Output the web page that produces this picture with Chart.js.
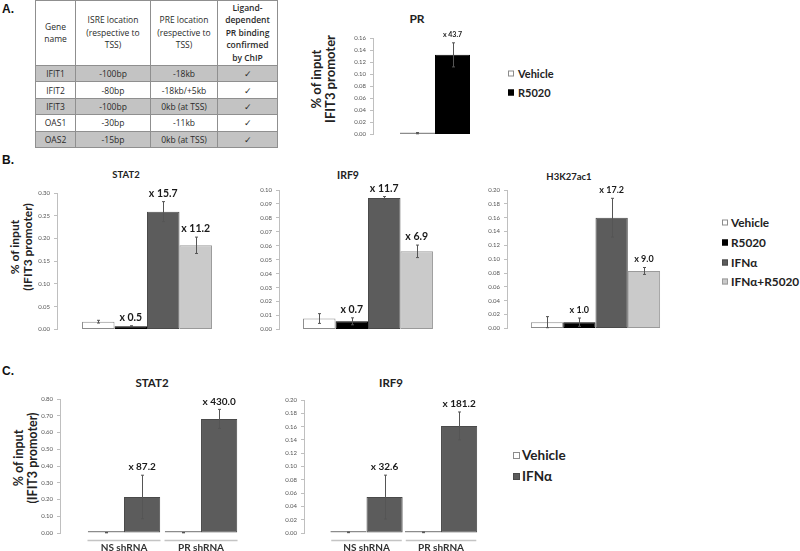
<!DOCTYPE html>
<html>
<head>
<meta charset="utf-8">
<script src="https://cdn.jsdelivr.net/npm/chart.js@4"></script>
<style>
  html, body { margin: 0; padding: 0; background: #fff; }
  #fig { position: relative; width: 800px; height: 551px; overflow: hidden; font-family: Lato, sans-serif; color: #222; }
  #fig canvas { position: absolute; }
  .txt { position: absolute; white-space: nowrap; transform: translate(-50%, -50%); font-weight: bold; line-height: 1.1; text-align: center; }
  .txt.rot { transform: translate(-50%, -50%) rotate(-90deg); }
  .letter { position: absolute; transform: translateY(-50%); font-family: 'Liberation Sans', Arial, sans-serif; font-weight: bold; font-size: 12px; color: #111; }
  .leg { position: absolute; transform: translateY(-50%); display: flex; align-items: center; font-weight: bold; white-space: nowrap; color: #222; }
  .leg .sw { display: inline-block; box-sizing: border-box; border: 1px solid #777; }
  table.genes { position: absolute; left: 35px; top: 0; border-collapse: collapse; table-layout: fixed;
    font-family: 'Open Sans', sans-serif; font-size: 8.5px; color: #2a2a2a; }
  table.genes th, table.genes td { border: 1px solid #8f8f8f; text-align: center; padding: 0; }
  table.genes th { font-weight: normal; line-height: 12.5px; height: 64px; }
  table.genes th:last-child { font-weight: 600; }
  table.genes td { height: 15.4px; }
  table.genes tr.shade td { background: #c3c3c3; }
</style>
</head>
<body>
<div id="fig"></div>
<script>
// ---- Panel A: table ----
const tableHead = ['Gene<br>name', 'ISRE location<br>(respective to<br>TSS)', 'PRE location<br>(respective to<br>TSS)', 'Ligand-<br>dependent<br>PR binding<br>confirmed<br>by ChIP'];
const genes = ['IFIT1', 'IFIT2', 'IFIT3', 'OAS1', 'OAS2'];
const isreLoc = ['-100bp', '-80bp', '-100bp', '-30bp', '-15bp'];
const preLoc = ['-18kb', '-18kb/+5kb', '0kb (at TSS)', '-11kb', '0kb (at TSS)'];
const chipOk = ['✓', '✓', '✓', '✓', '✓'];

// ---- Panel A: PR ChIP ----
const prSeries = ['Vehicle', 'R5020'];
const prValues = [0.002, 0.132];
const prErrors = [0.001, 0.020];
const prFold = ['', 'x 43.7'];

// ---- Panel B ----
const bSeries = ['Vehicle', 'R5020', 'IFNα', 'IFNα+R5020'];
const stat2Values = [0.017, 0.007, 0.259, 0.185];
const stat2Errors = [0.003, 0.001, 0.022, 0.018];
const stat2Fold = ['', 'x 0.5', 'x 15.7', 'x 11.2'];
const irf9Values = [0.0078, 0.0058, 0.0943, 0.056];
const irf9Errors = [0.0035, 0.0025, 0.001, 0.0045];
const irf9Fold = ['', 'x 0.7', 'x 11.7', 'x 6.9'];
const h3Values = [0.009, 0.009, 0.160, 0.083];
const h3Errors = [0.008, 0.006, 0.028, 0.005];
const h3Fold = ['', 'x 1.0', 'x 17.2', 'x 9.0'];

// ---- Panel C ----
const shGroups = ['NS shRNA', 'PR shRNA'];
const cSeries = ['Vehicle', 'IFNα'];
const cStat2Vehicle = [0.002, 0.002];
const cStat2VehicleErr = [0.001, 0.001];
const cStat2Ifn = [0.215, 0.681];
const cStat2IfnErr = [0.130, 0.057];
const cStat2Fold = ['x 87.2', 'x 430.0'];
const cIrf9Vehicle = [0.001, 0.001];
const cIrf9VehicleErr = [0.0005, 0.0005];
const cIrf9Ifn = [0.054, 0.161];
const cIrf9IfnErr = [0.033, 0.021];
const cIrf9Fold = ['x 32.6', 'x 181.2'];

// colores por serie
const seriesFill = { 'Vehicle': '#ffffff', 'R5020': '#000000', 'IFNα': '#5c5c5c', 'IFNα+R5020': '#cacaca' };
const seriesEdge = { 'Vehicle': '#8c8c8c', 'R5020': '#000000', 'IFNα': '#4a4a4a', 'IFNα+R5020': '#9a9a9a' };

const fig = document.getElementById('fig');
const Y_W = 24, PAD_T = 12, PAD_R = 2, PAD_B = 6;

// error bars + "x n" labels on top
const errorBars = {
  id: 'errorBars',
  afterDatasetsDraw(chart, args, opts) {
    const { ctx } = chart;
    const y = chart.scales.y;
    ctx.save();
    chart.data.datasets.forEach((ds, i) => {
      chart.getDatasetMeta(i).data.forEach((bar, j) => {
        const raw = ds.data[j];
        const v = typeof raw === 'object' ? raw.y : raw;
        const e = ds.errors ? ds.errors[j] : 0;
        const top = y.getPixelForValue(v + e);
        const bot = y.getPixelForValue(Math.max(v - e, 0));
        const x = Math.round(bar.x) + 0.5;
        ctx.strokeStyle = '#555';
        ctx.lineWidth = 1;
        ctx.beginPath();
        ctx.moveTo(x, top); ctx.lineTo(x, bot);
        ctx.moveTo(x - 1.5, top); ctx.lineTo(x + 1.5, top);
        ctx.moveTo(x - 1.5, bot); ctx.lineTo(x + 1.5, bot);
        ctx.stroke();
        const lab = ds.fold ? ds.fold[j] : '';
        if (lab) {
          ctx.fillStyle = '#1a1a1a';
          ctx.font = `bold ${opts.size}px Lato, sans-serif`;
          ctx.textAlign = 'center';
          ctx.textBaseline = 'middle';
          ctx.fillText(lab, bar.x, top - 8);
        }
      });
    });
    ctx.restore();
  },
};

// line under each shRNA group (panel C)
const groupLines = {
  id: 'groupLines',
  afterDraw(chart) {
    const x = chart.scales.x, ctx = chart.ctx;
    const half = (x.getPixelForValue(1) - x.getPixelForValue(0)) / 2;
    const yy = chart.chartArea.bottom + 7.5;
    ctx.save();
    ctx.strokeStyle = '#c4c4c4';
    ctx.lineWidth = 1.5;
    shGroups.forEach((_, i) => {
      const cx = x.getPixelForValue(i);
      ctx.beginPath();
      ctx.moveTo(cx - half + 2, yy);
      ctx.lineTo(cx + half - 2, yy);
      ctx.stroke();
    });
    ctx.restore();
  },
};

function makeCanvas(box) {
  const c = document.createElement('canvas');
  const left = box.left - Y_W;
  const top = box.top - PAD_T;
  c.width = box.right - left + PAD_R;
  c.height = box.bottom + (box.xH || PAD_B) - top;
  c.style.left = left + 'px';
  c.style.top = top + 'px';
  fig.appendChild(c);
  return c;
}

function baseOptions(max, step, labelSize, xScale) {
  return {
    responsive: false,
    animation: false,
    layout: { padding: { top: PAD_T, right: PAD_R, bottom: xScale ? 0 : PAD_B, left: 0 } },
    plugins: {
      legend: { display: false },
      tooltip: { enabled: false },
      errorBars: { size: labelSize },
    },
    scales: {
      x: xScale || { display: false },
      y: {
        min: 0,
        max,
        afterFit: s => { s.width = Y_W; },
        border: { color: '#bfbfbf' },
        grid: { drawOnChartArea: false, color: '#bfbfbf', tickLength: 3 },
        ticks: {
          stepSize: step,
          padding: 4,
          color: '#555',
          font: { family: 'Lato', size: 6 },
          callback: v => v.toFixed(2),
        },
      },
    },
  };
}

function barStyle(name, cat) {
  return {
    label: name,
    backgroundColor: seriesFill[name],
    borderColor: seriesEdge[name],
    borderWidth: 1,
    borderSkipped: false,
    minBarLength: 2,
    categoryPercentage: cat,
    barPercentage: 1,
  };
}

// one group of bars, one dataset per treatment
function groupChart(box, series, values, errors, fold, max, step, labelSize) {
  new Chart(makeCanvas(box), {
    type: 'bar',
    data: {
      labels: [''],
      datasets: series.map((name, i) => ({
        ...barStyle(name, box.cat),
        data: [values[i]],
        errors: [errors[i]],
        fold: [fold[i]],
      })),
    },
    options: baseOptions(max, step, labelSize),
    plugins: [errorBars],
  });
}

// two shRNA groups, Vehicle vs IFNα
function shChart(box, vehicle, vehicleErr, ifn, ifnErr, fold, max, step) {
  const pts = arr => arr.map((v, i) => ({ x: i, y: v }));
  const xScale = {
    type: 'linear',
    min: box.xMin,
    max: box.xMax,
    offset: false,
    bounds: 'data',
    afterBuildTicks: s => { s.ticks = shGroups.map((_, i) => ({ value: i })); },
    afterFit: s => { s.height = box.xH; },
    grid: { display: false, drawTicks: false },
    border: { display: false },
    ticks: {
      padding: 9,
      autoSkip: false,
      maxRotation: 0,
      color: '#333',
      font: { family: 'Lato', size: 10, weight: 'bold' },
      callback: v => shGroups[v] ?? '',
    },
  };
  new Chart(makeCanvas(box), {
    type: 'bar',
    data: {
      datasets: [
        { ...barStyle(cSeries[0], box.cat), data: pts(vehicle), errors: vehicleErr, fold: ['', ''] },
        { ...barStyle(cSeries[1], box.cat), data: pts(ifn), errors: ifnErr, fold },
      ],
    },
    options: baseOptions(max, step, 10, xScale),
    plugins: [errorBars, groupLines],
  });
}

function addText(str, x, y, size, rot) {
  const d = document.createElement('div');
  d.className = 'txt' + (rot ? ' rot' : '');
  d.style.left = x + 'px';
  d.style.top = y + 'px';
  d.style.fontSize = size + 'px';
  d.innerHTML = str;
  fig.appendChild(d);
}

function addLetter(str, x, y) {
  const d = document.createElement('div');
  d.className = 'letter';
  d.style.left = x + 'px';
  d.style.top = y + 'px';
  d.textContent = str;
  fig.appendChild(d);
}

function addLegend(names, x, ys, size, sw, gap) {
  names.forEach((name, i) => {
    const row = document.createElement('div');
    row.className = 'leg';
    row.style.left = x + 'px';
    row.style.top = ys[i] + 'px';
    row.style.fontSize = size + 'px';
    row.innerHTML = `<span class="sw" style="width:${sw}px;height:${sw}px;margin-right:${gap}px;background:${seriesFill[name]};border-color:${seriesEdge[name]}"></span>${name}`;
    fig.appendChild(row);
  });
}

// ---- tabla ----
const tbl = document.createElement('table');
tbl.className = 'genes';
tbl.innerHTML =
  '<colgroup><col style="width:40px"><col style="width:75px"><col style="width:67px"><col style="width:60px"></colgroup>' +
  '<tr>' + tableHead.map(h => `<th>${h}</th>`).join('') + '</tr>' +
  genes.map((g, i) => `<tr class="${i % 2 === 0 ? 'shade' : ''}"><td>${g}</td><td>${isreLoc[i]}</td><td>${preLoc[i]}</td><td>${chipOk[i]}</td></tr>`).join('');
fig.appendChild(tbl);

// ---- letras ----
addLetter('A.', 2, 9);
addLetter('B.', 2, 160);
addLetter('C.', 2, 371);

// ---- PR ----
addText('PR', 417, 19, 12);
addText('% of input<br>IFIT3 promoter', 323, 79, 13, true);
groupChart({ left: 373, right: 497, top: 38, bottom: 136, cat: 0.565 }, prSeries, prValues, prErrors, prFold, 0.16, 0.02, 7);
addLegend(prSeries, 508, [73, 92], 11, 6, 4);

// ---- B ----
addText('% of input<br>(IFIT3 promoter)', 21, 247, 12, true);
addText('STAT2', 126, 175, 9.5);
groupChart({ left: 57, right: 237, top: 193, bottom: 331, cat: 0.722 }, bSeries, stat2Values, stat2Errors, stat2Fold, 0.30, 0.05, 10.5);
addText('IRF9', 348, 176, 10.5);
groupChart({ left: 279, right: 457, top: 190, bottom: 331, cat: 0.73 }, bSeries, irf9Values, irf9Errors, irf9Fold, 0.10, 0.01, 10.5);
addText('H3K27ac1', 569, 177, 9.5);
groupChart({ left: 507, right: 684, top: 190, bottom: 330, cat: 0.73 }, bSeries, h3Values, h3Errors, h3Fold, 0.20, 0.02, 9);
addLegend(bSeries, 722, [222, 242, 262, 281], 11.8, 6, 3);

// ---- C ----
addText('% of input<br>(IFIT3 promoter)', 26, 458, 12.5, true);
addText('STAT2', 152, 383, 11.5);
shChart({ left: 60, right: 240, top: 399, bottom: 533, xH: 18, cat: 0.94, xMin: -0.831, xMax: 1.506 },
  cStat2Vehicle, cStat2VehicleErr, cStat2Ifn, cStat2IfnErr, cStat2Fold, 0.80, 0.10);
addText('IRF9', 391, 383, 11.5);
shChart({ left: 304, right: 480, top: 400, bottom: 533, xH: 18, cat: 0.97, xMin: -0.839, xMax: 1.523 },
  cIrf9Vehicle, cIrf9VehicleErr, cIrf9Ifn, cIrf9IfnErr, cIrf9Fold, 0.20, 0.02);
addLegend(cSeries, 513, [455, 476], 13.5, 7, 2);
</script>
</body>
</html>
